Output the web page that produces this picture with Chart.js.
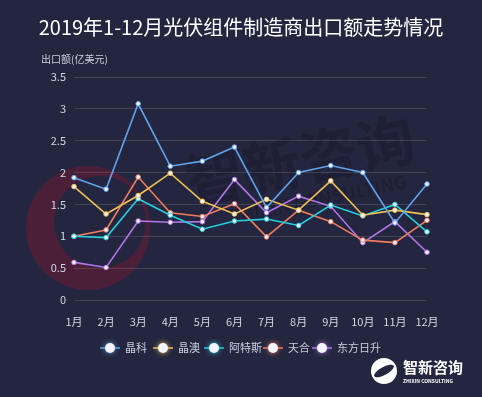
<!DOCTYPE html>
<html>
<head>
<meta charset="utf-8">
<script src="https://cdn.jsdelivr.net/npm/chart.js@4.4.0/dist/chart.umd.min.js"></script>
<style>
  html, body { margin: 0; padding: 0; background: #242640; }
  #wrap { width: 482px; height: 397px; }
</style>
</head>
<body>
<div id="wrap"><canvas id="grafico"></canvas></div>
<script>
const months = ["1月", "2月", "3月", "4月", "5月", "6月", "7月", "8月", "9月", "10月", "11月", "12月"];
const jinko = [1.92, 1.74, 3.08, 2.10, 2.18, 2.40, 1.45, 2.00, 2.11, 2.00, 1.21, 1.82];
const jaSolar = [1.78, 1.35, 1.64, 1.99, 1.55, 1.35, 1.58, 1.41, 1.87, 1.33, 1.41, 1.34];
const canadian = [1.00, 0.98, 1.59, 1.33, 1.11, 1.24, 1.27, 1.17, 1.49, 1.32, 1.50, 1.07];
const trina = [1.00, 1.10, 1.93, 1.37, 1.31, 1.51, 0.99, 1.41, 1.23, 0.94, 0.90, 1.25];
const risen = [0.59, 0.51, 1.24, 1.22, 1.23, 1.89, 1.37, 1.63, 1.47, 0.90, 1.23, 0.75];
const seriesNames = ["晶科", "晶澳", "阿特斯", "天合", "东方日升"];
const yTicks = [0, 0.5, 1, 1.5, 2, 2.5, 3, 3.5];

const colors = ["#5fa3ea", "#f1c24f", "#25cfe0", "#ef7d5e", "#b375e8"];
const font = "'Noto Sans CJK SC', 'Noto Sans', sans-serif";

function serie(name, values, color) {
    return {
        label: name,
        data: values,
        borderColor: color,
        backgroundColor: color,
        borderWidth: 1.6,
        pointRadius: 2.3,
        pointBackgroundColor: "#f2f2ff",
        pointBorderColor: color,
        pointBorderWidth: 1,
        tension: 0,
        fill: false
    };
}

// fundo, marca d'agua, titulo e legenda
const decoracao = {
    id: "decoracao",
    beforeDraw(chart) {
        const ctx = chart.ctx;
        ctx.save();
        ctx.fillStyle = "#242640";
        ctx.fillRect(0, 0, chart.width, chart.height);
        // anel vermelho (meia lua)
        ctx.fillStyle = "rgba(130, 22, 45, 0.42)";
        ctx.beginPath();
        ctx.arc(88, 228, 62, 0, Math.PI * 2);
        ctx.arc(100, 222, 46, 0, Math.PI * 2, true);
        ctx.fill();
        // marca
        ctx.translate(300, 160);
        ctx.rotate(-0.2);
        ctx.fillStyle = "rgba(15, 16, 30, 0.3)";
        ctx.font = "bold 58px " + font;
        ctx.textAlign = "center";
        ctx.textBaseline = "middle";
        ctx.fillText("智新咨询", 0, 0);
        ctx.font = "bold 18px " + font;
        ctx.fillText("ZHIXIN CONSULTING", 10, 42);
        ctx.restore();
    },
    afterDraw(chart) {
        const ctx = chart.ctx;
        ctx.save();
        ctx.fillStyle = "#ffffff";
        ctx.font = "20px " + font;
        ctx.textAlign = "center";
        ctx.textBaseline = "middle";
        ctx.fillText("2019年1-12月光伏组件制造商出口额走势情况", 241, 27);

        ctx.fillStyle = "#c9cfe2";
        ctx.font = "10px " + font;
        ctx.textAlign = "left";
        ctx.fillText("出口额(亿美元)", 41, 59);

        // legenda
        const xs = [110, 163, 214, 273, 322];
        ctx.font = "11px " + font;
        seriesNames.forEach(function (nome, i) {
            const x = xs[i], y = 348;
            ctx.strokeStyle = colors[i];
            ctx.lineWidth = 1.5;
            ctx.beginPath();
            ctx.moveTo(x - 10, y);
            ctx.lineTo(x + 10, y);
            ctx.stroke();
            ctx.beginPath();
            ctx.arc(x, y, 5, 0, Math.PI * 2);
            ctx.fillStyle = "#f4f4ff";
            ctx.shadowColor = colors[i];
            ctx.shadowBlur = 5;
            ctx.fill();
            ctx.shadowBlur = 0;
            ctx.fillStyle = "#c9cfe2";
            ctx.fillText(nome, x + 15, y);
        });

        // logo
        ctx.fillStyle = "#ffffff";
        ctx.beginPath();
        ctx.arc(384, 371, 13, 0, Math.PI * 2);
        ctx.fill();
        ctx.fillStyle = "#242640";
        ctx.beginPath();
        ctx.ellipse(384, 371, 11, 4, -0.5, 0, Math.PI * 2);
        ctx.fill();
        ctx.fillStyle = "#ffffff";
        ctx.font = "bold 15px " + font;
        ctx.fillText("智新咨询", 403, 367);
        ctx.font = "bold 5px " + font;
        ctx.fillText("ZHIXIN CONSULTING", 403, 381);
        ctx.restore();
    }
};

new Chart(document.getElementById("grafico"), {
    type: "line",
    data: {
        labels: months,
        datasets: [
            serie(seriesNames[0], jinko, colors[0]),
            serie(seriesNames[1], jaSolar, colors[1]),
            serie(seriesNames[2], canadian, colors[2]),
            serie(seriesNames[3], trina, colors[3]),
            serie(seriesNames[4], risen, colors[4])
        ]
    },
    options: {
        responsive: true,
        maintainAspectRatio: false,
        animation: false,
        layout: { padding: { top: 77, right: 55, bottom: 0, left: 0 } },
        plugins: {
            legend: { display: false },
            tooltip: { enabled: false }
        },
        scales: {
            x: {
                grid: { display: false },
                border: { display: false },
                ticks: {
                    color: "#d3d7e6",
                    font: { family: font, size: 11 },
                    padding: 7,
                    maxRotation: 0,
                    autoSkip: false
                },
                afterFit: function (scale) { scale.height = 97; }
            },
            y: {
                min: 0,
                max: 3.5,
                afterBuildTicks: function (scale) {
                    scale.ticks = yTicks.map(function (v) { return { value: v }; });
                },
                grid: {
                    color: "rgba(255,255,255,0.13)",
                    drawTicks: false
                },
                border: { display: false },
                ticks: {
                    color: "#d3d7e6",
                    font: { family: font, size: 11 },
                    padding: 8,
                    callback: function (v) { return String(v); }
                },
                afterFit: function (scale) { scale.width = 74; }
            }
        }
    },
    plugins: [decoracao]
});
</script>
</body>
</html>
